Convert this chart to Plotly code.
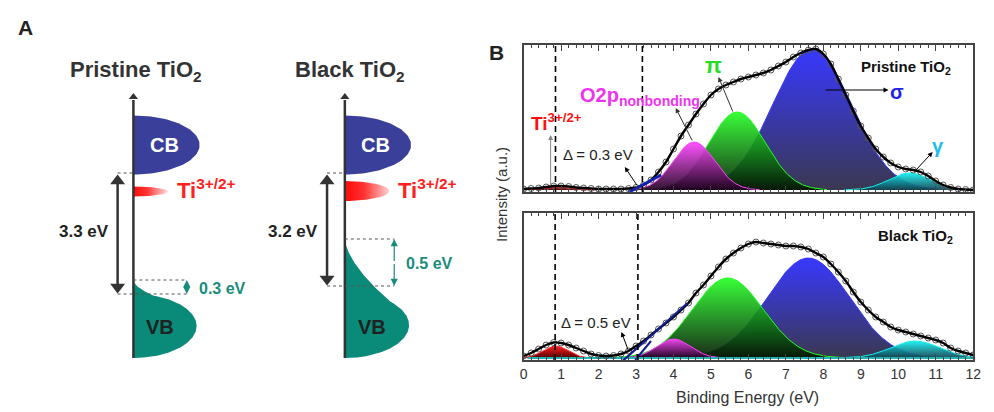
import numpy as np
import plotly.graph_objects as go

FONT = "Liberation Sans, Arial, sans-serif"
W, H = 994, 412

# ---------------- data (panel B) ----------------
energy = np.round(np.arange(0, 12.01, 0.2), 1)
pristine_data = [1, 1.5, 2, 3, 4, 4, 3.5, 2.5, 2, 1.5, 1, 1, 1, 1, 1.5, 2.5, 5, 10, 18, 28,
                 41, 54, 65, 76, 86, 95, 101, 105, 108, 111, 113, 115, 117, 120, 124, 128, 133, 137, 140, 141,
                 136, 126, 111, 95, 79, 64, 52, 41, 33, 27, 23, 21, 20, 18, 14, 9, 5, 2.5, 1, 0.5, 0]
black_data = [2, 5, 9, 13, 15.5, 15, 13, 10, 7, 4, 2.5, 2, 2.5, 4, 7, 12, 17, 23, 29, 35,
              41, 48, 55, 65, 73, 82, 91, 99, 105, 110, 114, 116, 115, 114, 113, 112, 112, 111, 109, 105,
              101, 94, 86, 77, 66, 56, 48, 41, 36, 31, 28, 26, 24, 22, 20, 18, 15, 10, 7, 5, 3]

# fitted components: Ti3+/2+, O2p nonbonding, pi, sigma, gamma
comp_names = ["Ti", "O2p", "pi", "sigma", "gamma"]
pristine_centers = [0.85, 4.55, 5.7, 7.7, 10.3]
pristine_heights = [3, 48, 78, 141, 17]
pristine_sigmas = [0.35, 0.55, 0.75, 1.05, 0.55]
black_centers = [0.85, 4.0, 5.45, 7.6, 10.45]
black_heights = [12, 19, 80, 100, 17]
black_sigmas = [0.33, 0.45, 0.95, 1.1, 0.65]

comp_bright = ["#FF2020", "#FF44FF", "#22FF22", "#3838FF", "#10F0F0"]
comp_dark = ["#500000", "#200020", "#001400", "#3A3850", "#104050"]
comp_alpha = [1.0, 0.92, 0.9, 1.0, 0.92]
draw_order = [3, 2, 1, 4, 0]

# edge tangent lines (eV, intensity)
pristine_tangent_x = [2.83, 3.67]
pristine_tangent_y = [-1.7, 15]
black_tangent_x = [2.62, 4.37]
black_tangent_y = [-3.7, 54.7]
black_tangent2_x = [2.98, 3.4]
black_tangent2_y = [-2, 17]
pristine_edges = [0.85, 3.17]
black_edges = [0.84, 3.05]

# ---------------- data (panel A) ----------------
gaps = ["3.3 eV", "3.2 eV"]
tails = ["0.3 eV", "0.5 eV"]

fig = go.Figure()


def rgba(hexc, a):
    h = hexc.lstrip("#")
    return "rgba(%d,%d,%d,%.2f)" % (int(h[0:2], 16), int(h[2:4], 16), int(h[4:6], 16), a)


grid = np.linspace(0, 12, 961)


def add_components(centers, heights, sigmas, xa, ya):
    for i in draw_order:
        c, h, s = centers[i], heights[i], sigmas[i]
        m = np.abs(grid - c) <= 3.2 * s
        xs = grid[m]
        ys = h * np.exp(-(xs - c) ** 2 / (2 * s * s))
        fig.add_trace(go.Scatter(
            x=xs, y=ys, mode="lines", xaxis=xa, yaxis=ya, fill="tozeroy",
            line=dict(color=comp_bright[i], width=1),
            fillgradient=dict(type="vertical", start=0, stop=h,
                              colorscale=[[0, rgba(comp_dark[i], comp_alpha[i])],
                                          [1, rgba(comp_bright[i], comp_alpha[i])]]),
            hoverinfo="skip"))


add_components(pristine_centers, pristine_heights, pristine_sigmas, "x", "y")
add_components(black_centers, black_heights, black_sigmas, "x2", "y2")

# cyan baseline in bottom panel
fig.add_trace(go.Scatter(x=[0.1, 12], y=[0, 0], mode="lines", xaxis="x2", yaxis="y2",
                         line=dict(color="#1FB5B5", width=2), hoverinfo="skip"))

# data + envelope
for data, xa, ya in [(pristine_data, "x", "y"), (black_data, "x2", "y2")]:
    fig.add_trace(go.Scatter(x=energy, y=data, mode="markers", xaxis=xa, yaxis=ya,
                             marker=dict(symbol="circle-open", size=6, color="#555555", line=dict(width=1))))
    fig.add_trace(go.Scatter(x=energy, y=data, mode="lines", xaxis=xa, yaxis=ya,
                             line=dict(color="black", width=2.4, shape="spline", smoothing=0.8)))

# tangent lines
fig.add_trace(go.Scatter(x=pristine_tangent_x, y=pristine_tangent_y, mode="lines", xaxis="x", yaxis="y",
                         line=dict(color="#1020B0", width=3)))
fig.add_trace(go.Scatter(x=black_tangent_x, y=black_tangent_y, mode="lines", xaxis="x2", yaxis="y2",
                         line=dict(color="#101C90", width=2.2)))
fig.add_trace(go.Scatter(x=black_tangent2_x, y=black_tangent2_y, mode="lines", xaxis="x2", yaxis="y2",
                         line=dict(color="#101C90", width=2)))

# dashed edge markers
for xs, xa, ya in [(pristine_edges, "x", "y"), (black_edges, "x2", "y2")]:
    for xv in xs:
        fig.add_trace(go.Scatter(x=[xv, xv], y=[-2, 145], mode="lines", xaxis=xa, yaxis=ya,
                                 line=dict(color="black", width=1.6, dash="6px,4px")))

# ---------------- panel A schematic (pixel axis x3/y3) ----------------
CB_COL = "#3A3F99"
VB_COL = "#0A8A78"
TEAL = "#1A8C7C"
RED = "#FF2020"
DARK = "#333333"


def half_ellipse(x0, yc, rx, ry, n=60):
    t = np.linspace(-np.pi / 2, np.pi / 2, n)
    return x0 + rx * np.cos(t), yc + ry * np.sin(t)


def vb_shape(x0, ytail, a, p, yc, rx, ry):
    ys = np.linspace(ytail, yc + ry, 200)
    tail = x0 + a * (ys - ytail) ** p
    ell = np.where(np.abs(ys - yc) <= ry, x0 + rx * np.sqrt(np.clip(1 - ((ys - yc) / ry) ** 2, 0, 1)), x0)
    cross = np.argmax((ell >= tail) & (ys > yc - ry))
    xs = np.where(np.arange(len(ys)) < cross, tail, ell)
    return np.concatenate([[x0], xs, [x0]]), np.concatenate([[ytail], ys, [yc + ry]])


panels = [
    dict(x0=131, ti_rx=35, ti_ry=5, ti_y=191.5, arr_x=115, gap_top=174, gap_bot=294, tail_top=280,
         tx=185, a=0.143, p=1.8, title_x=134, tail_lbl_x=221, vb_yc=326, vb_ry=32, vb_rx=64),
    dict(x0=345, ti_rx=45, ti_ry=10, ti_y=191, arr_x=327, gap_top=174, gap_bot=286, tail_top=239,
         tx=395, a=0.0615, p=1.6, title_x=350, tail_lbl_x=431, vb_yc=325, vb_ry=33, vb_rx=65),
]
titles = ["<b>Pristine TiO<sub>2</sub></b>", "<b>Black TiO<sub>2</sub></b>"]

annotations = []
for k, P in enumerate(panels):
    x0 = P["x0"]
    # CB
    ex, ey = half_ellipse(x0, 145, 67, 29.5)
    fig.add_trace(go.Scatter(x=np.concatenate([ex, [x0]]), y=np.concatenate([ey, [ey[0]]]), fill="toself",
                             mode="lines", line=dict(width=0, color=CB_COL), fillcolor=CB_COL,
                             xaxis="x3", yaxis="y3"))
    # VB
    vx, vy = vb_shape(x0, P["tail_top"], P["a"], P["p"], P["vb_yc"], P["vb_rx"], P["vb_ry"])
    fig.add_trace(go.Scatter(x=vx, y=vy, fill="toself", mode="lines", line=dict(width=0, color=VB_COL),
                             fillcolor=VB_COL, xaxis="x3", yaxis="y3"))
    # Ti defect band
    tx_, ty_ = half_ellipse(x0, P["ti_y"], P["ti_rx"], P["ti_ry"])
    fig.add_trace(go.Scatter(x=np.concatenate([tx_, [x0]]), y=np.concatenate([ty_, [ty_[0]]]), fill="toself",
                             mode="lines", line=dict(width=0, color=RED),
                             fillgradient=dict(type="horizontal", start=x0, stop=x0 + P["ti_rx"],
                                               colorscale=[[0, "#FF1010"], [0.35, "#FF3535"], [1, "#FFF0F0"]]),
                             xaxis="x3", yaxis="y3"))
    # energy axis
    fig.add_trace(go.Scatter(x=[x0, x0], y=[358, 100], mode="lines", line=dict(color=DARK, width=2.5),
                             xaxis="x3", yaxis="y3"))
    fig.add_trace(go.Scatter(x=[x0], y=[97], mode="markers", marker=dict(symbol="triangle-up", size=8, color=DARK),
                             xaxis="x3", yaxis="y3"))
    # dotted guides
    ax_ = P["arr_x"]
    for (xa_, xb_, yv) in [(ax_, x0, P["gap_top"] - 1), (x0, P["tx"], P["tail_top"]), (ax_, P["tx"], P["gap_bot"])]:
        fig.add_trace(go.Scatter(x=[xa_, xb_], y=[yv, yv], mode="lines",
                                 line=dict(color="#555555", width=1, dash="dot"), xaxis="x3", yaxis="y3"))
    # band gap double arrow
    fig.add_trace(go.Scatter(x=[ax_, ax_], y=[P["gap_top"] + 8, P["gap_bot"] - 8], mode="lines",
                             line=dict(color=DARK, width=2.5), xaxis="x3", yaxis="y3"))
    fig.add_trace(go.Scatter(x=[ax_, ax_], y=[P["gap_top"] + 7, P["gap_bot"] - 7], mode="markers",
                             marker=dict(symbol=["triangle-up", "triangle-down"], size=13, color=DARK),
                             xaxis="x3", yaxis="y3"))
    # tail double arrow (teal)
    mid = (P["tail_top"] + P["gap_bot"]) / 2
    for yy in [P["tail_top"], P["gap_bot"]]:
        annotations.append(dict(x=P["tx"], y=yy, ax=P["tx"], ay=mid, xref="x3", yref="y3", axref="x3",
                                ayref="y3", showarrow=True, arrowhead=2, arrowsize=1.2, arrowwidth=1.2,
                                arrowcolor=TEAL, text=""))
    # labels
    annotations.append(dict(x=x0 + 31, y=145, xref="x3", yref="y3", text="<b>CB</b>", showarrow=False,
                            font=dict(size=20, color="white", family=FONT)))
    annotations.append(dict(x=x0 + 27, y=327, xref="x3", yref="y3", text="<b>VB</b>", showarrow=False,
                            font=dict(size=20, color="#1E2222", family=FONT)))
    annotations.append(dict(x=P["title_x"], y=71, xref="x3", yref="y3", text=titles[k], showarrow=False,
                            font=dict(size=22, color=DARK, family=FONT)))
    annotations.append(dict(x=ax_ - 7, y=231, xref="x3", yref="y3", text="<b>%s</b>" % gaps[k], showarrow=False,
                            xanchor="right", font=dict(size=17, color="#222222", family=FONT)))
    annotations.append(dict(x=P["tail_lbl_x"], y=mid + 1, xref="x3", yref="y3", text="<b>%s</b>" % tails[k],
                            showarrow=False, font=dict(size=16, color=TEAL, family=FONT)))
    annotations.append(dict(x=x0 + P["ti_rx"] + 7, y=189, xref="x3", yref="y3",
                            text="<b>Ti<sup>3+/2+</sup></b>", showarrow=False, xanchor="left",
                            font=dict(size=22, color=RED, family=FONT)))

annotations.append(dict(x=22, y=27, xref="x3", yref="y3", text="<b>A</b>", showarrow=False,
                        font=dict(size=21, color="#222222", family=FONT)))
annotations.append(dict(x=499, y=52, xref="x3", yref="y3", text="<b>B</b>", showarrow=False,
                        font=dict(size=21, color="#222222", family=FONT)))
annotations.append(dict(x=503, y=194, xref="x3", yref="y3", text="Intensity (a.u.)", showarrow=False,
                        textangle=-90, font=dict(size=15, color="#333333", family=FONT)))
annotations.append(dict(x=753, y=397, xref="x3", yref="y3", text="Binding Energy (eV)", showarrow=False,
                        font=dict(size=16, color="#333333", family=FONT)))


def arrow(x, y, ax, ay, xr, yr, color="black", width=1, head=2):
    annotations.append(dict(x=x, y=y, ax=ax, ay=ay, xref=xr, yref=yr, axref=xr, ayref=yr, text="",
                            showarrow=True, arrowhead=head, arrowsize=1, arrowwidth=width, arrowcolor=color))


def label(x, y, text, xr, yr, size, color, xanchor="center"):
    annotations.append(dict(x=x, y=y, xref=xr, yref=yr, text=text, showarrow=False, xanchor=xanchor,
                            font=dict(size=size, color=color, family=FONT)))


# top panel labels
label(0.13, 68, "<b>Ti<sup>3+/2+</sup></b>", "x", "y", 19, "#FF1010", "left")
arrow(0.72, 55, 0.72, 3, "x", "y", color="#888888", width=1)
label(1.98, 35, "Δ = 0.3 eV", "x", "y", 15, "#222222")
arrow(2.70, 23, 3.05, 3.3, "x", "y")
label(1.45, 93, "<b>O2p<sub>nonbonding</sub></b>", "x", "y", 20, "#EE33EE", "left")
arrow(4.06, 82, 4.52, 48, "x", "y", color="#333333")
label(5.07, 124, "<b>π</b>", "x", "y", 22, "#22DD22")
arrow(5.2, 113, 5.6, 77, "x", "y", color="#333333")
label(10.21, 122, "<b>Pristine TiO<sub>2</sub></b>", "x", "y", 15, "#111111")
arrow(9.74, 100, 8.02, 100, "x", "y")
label(9.98, 98, "<b>σ</b>", "x", "y", 20, "#2222EE")
arrow(10.92, 38, 10.4, 17, "x", "y")
label(11.05, 44, "<b>γ</b>", "x", "y", 20, "#22BBEE")

# bottom panel labels
label(10.45, 122, "<b>Black TiO<sub>2</sub></b>", "x2", "y2", 15, "#111111")
label(1.93, 36, "Δ = 0.5 eV", "x2", "y2", 15, "#222222")
arrow(2.61, 26, 2.82, 5, "x2", "y2")

axis_common = dict(range=[0, 12], showgrid=False, zeroline=False, showline=True, linecolor="#444444",
                   linewidth=1.5, mirror="allticks", ticks="inside", ticklen=6, tickwidth=1.2,
                   tickcolor="#444444", dtick=1, tick0=0,
                   minor=dict(dtick=0.2, ticks="inside", ticklen=3, tickwidth=1, tickcolor="#444444"),
                   domain=[526 / W, 981 / W])
yaxis_common = dict(range=[-2, 145], showgrid=False, zeroline=False, showline=True, linecolor="#444444",
                    linewidth=1.5, mirror=True, showticklabels=False, ticks="")

fig.update_layout(
    width=W, height=H, margin=dict(l=0, r=0, t=0, b=0), showlegend=False,
    paper_bgcolor="white", plot_bgcolor="rgba(0,0,0,0)",
    font=dict(family=FONT),
    xaxis=dict(axis_common, anchor="y", showticklabels=False),
    yaxis=dict(yaxis_common, anchor="x", domain=[1 - 192 / H, 1 - 45 / H]),
    xaxis2=dict(axis_common, anchor="y2", showticklabels=True,
                tickfont=dict(size=14, color="#333333", family=FONT)),
    yaxis2=dict(yaxis_common, anchor="x2", domain=[1 - 360 / H, 1 - 213 / H]),
    xaxis3=dict(domain=[0, 1], range=[0, W], visible=False, anchor="y3", fixedrange=True),
    yaxis3=dict(domain=[0, 1], range=[H, 0], visible=False, anchor="x3", fixedrange=True),
    annotations=annotations,
)

fig.write_html("out.html")
